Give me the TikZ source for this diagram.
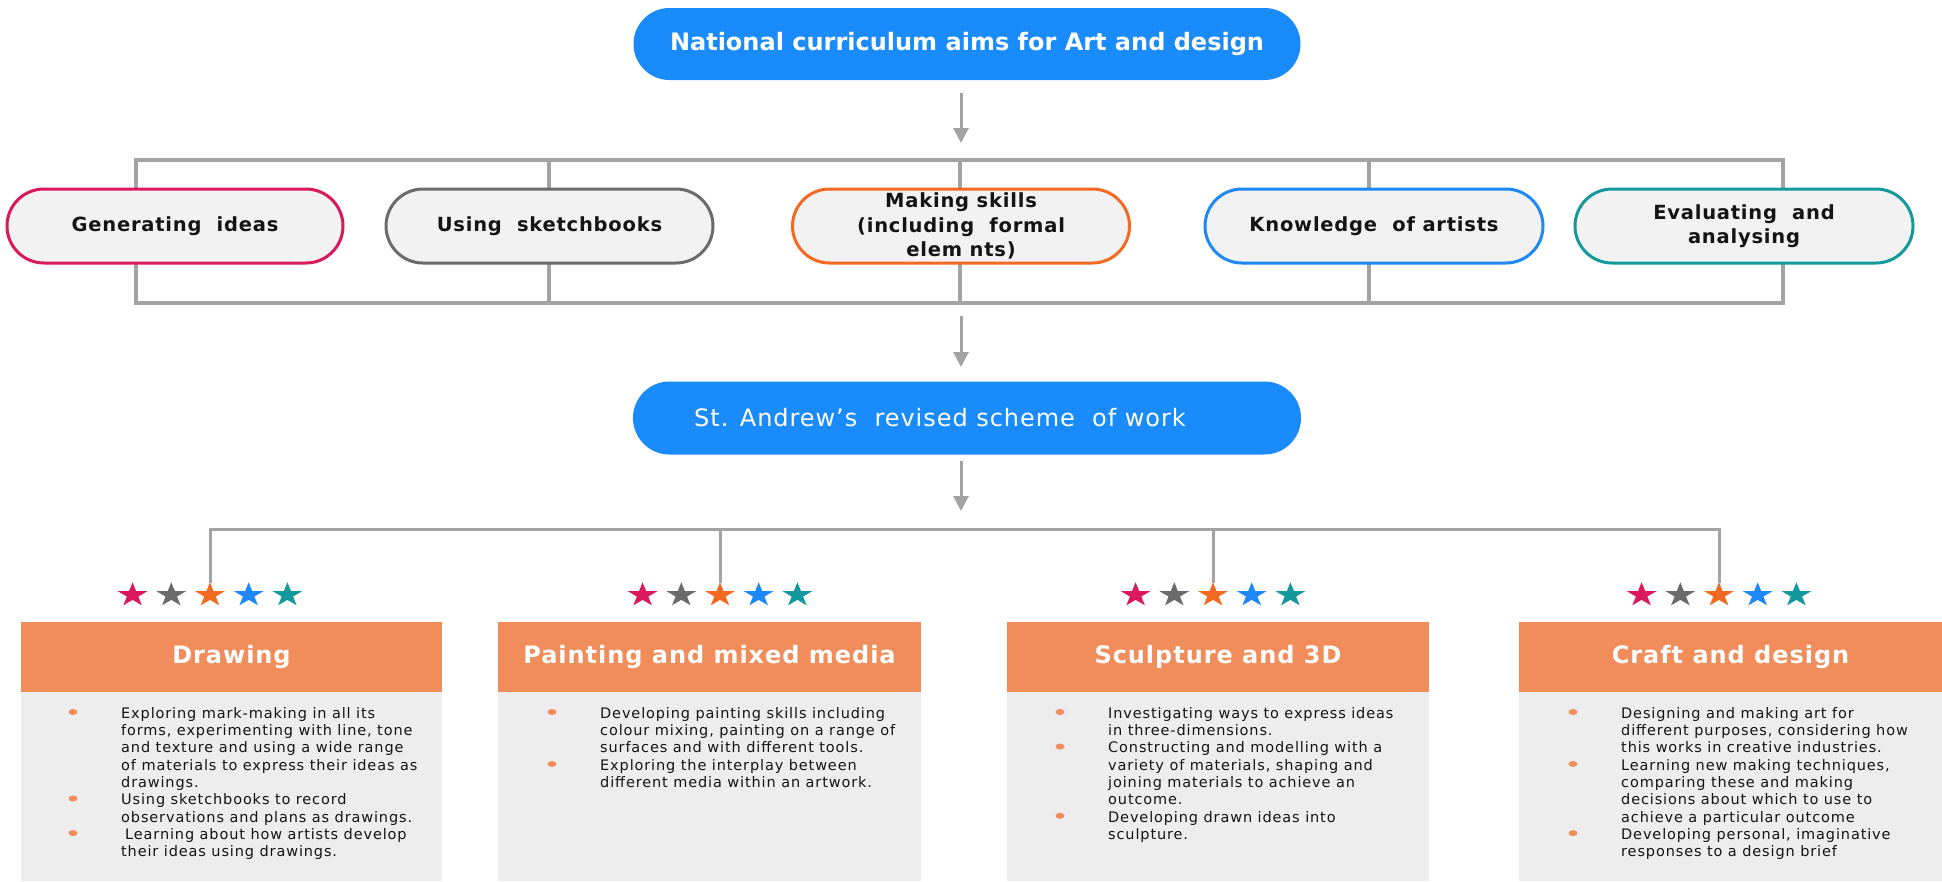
\documentclass[tikz,border=0pt]{standalone}
\usepackage{fontspec}
\setmainfont{DejaVu Sans}
\newfontfamily\pillfont{DejaVu Sans}[LetterSpace=4]
\newfontfamily\bodyfont{DejaVu Sans}[LetterSpace=6]
\usetikzlibrary{shapes.misc,arrows.meta}
\definecolor{ncblue}{HTML}{1A8BFB}
\definecolor{cCrimson}{HTML}{D9195C}
\definecolor{cGray}{HTML}{6B6B6B}
\definecolor{cOrange}{HTML}{F26A22}
\definecolor{cBlue}{HTML}{1E88F5}
\definecolor{cTeal}{HTML}{13999C}
\definecolor{pillfill}{HTML}{F2F2F2}
\definecolor{lineGray}{HTML}{A3A3A3}
\definecolor{hdrOrange}{HTML}{F08D5B}
\definecolor{bodyGray}{HTML}{EDEDED}
\definecolor{txt}{HTML}{141414}
\tikzset{
  bluepill/.style={rounded rectangle, fill=ncblue, draw=none, text=white, inner sep=0pt},
  aimpill/.style={rounded rectangle, fill=pillfill, draw=#1, line width=3pt, minimum height=74pt,
    text=txt, align=center, inner sep=0pt, font=\pillfont\bfseries\fontsize{19.5pt}{24.5pt}\selectfont},
  frameline/.style={draw=lineGray, line width=4pt},
  treeline/.style={draw=lineGray, line width=3pt},
  arr/.style={draw=lineGray, line width=3pt, -{Triangle[width=15pt,length=15pt]}},
  hdr/.style={rectangle, fill=hdrOrange, minimum height=70pt, inner sep=0pt, text=white,
    font=\pillfont\bfseries\fontsize{24pt}{28pt}\selectfont},
  bodytxt/.style={anchor=north west, inner sep=0pt, align=left, text=txt,
    font=\bodyfont\fontsize{14.5pt}{17.3pt}\selectfont},
  pics/fstar/.style={code={\fill[#1, x=1.24pt, y=1pt] (90:12.7) -- (126:4.85) -- (162:12.7) -- (198:4.85)
    -- (234:12.7) -- (270:4.85) -- (306:12.7) -- (342:4.85) -- (18:12.7) -- (54:4.85) -- cycle;}}
}
\newcommand{\bul}[2]{\fill[hdrOrange] (#1,#2) ellipse [x radius=4.5pt, y radius=3pt];}
\begin{document}
\begin{tikzpicture}[x=1pt,y=-1pt]
\useasboundingbox[fill=white] (0,0) rectangle (1942,881);

% top node
\node[bluepill, minimum width=667pt, minimum height=72pt,
  font=\bfseries\fontsize{24pt}{28pt}\selectfont] (nc) at (967,44) {National curriculum aims for Art and design};

% arrow 1
\coordinate (a1s) at (961,93);
\coordinate (a1e) at (961,143);
\draw[arr] (a1s) -- (a1e);

% frame
\coordinate (fTL) at (136,160);
\coordinate (fBR) at (1783,303);
\draw[frameline] (fTL) rectangle (fBR);
\coordinate (v2t) at (549,160); \coordinate (v2b) at (549,303);
\coordinate (v3t) at (960,160); \coordinate (v3b) at (960,303);
\coordinate (v4t) at (1369,160); \coordinate (v4b) at (1369,303);
\draw[frameline] (v2t) -- (v2b);
\draw[frameline] (v3t) -- (v3b);
\draw[frameline] (v4t) -- (v4b);

% aims pills
\node[aimpill=cCrimson, minimum width=336pt] (gen) at (175,226) {Generating~ ideas};
\node[aimpill=cGray, minimum width=327pt] (sk) at (549.5,226) {Using~ sketchbooks};
\node[aimpill=cOrange, minimum width=337pt] (mk) at (961,226) {Making skills\\(including~ formal\\elem nts)};
\node[aimpill=cBlue, minimum width=338pt] (kn) at (1374,226) {Knowledge~ of artists};
\node[aimpill=cTeal, minimum width=338pt] (ev) at (1744,226) {Evaluating~ and\\analysing};

% arrow 2
\coordinate (a2s) at (961,316);
\coordinate (a2e) at (961,367);
\draw[arr] (a2s) -- (a2e);

% second pill
\node[bluepill, minimum width=668pt, minimum height=73pt,
  font=\pillfont\fontsize{24pt}{28pt}\selectfont] (sa) at (967,418) {St. Andrew’s~ revised scheme~ of work\hspace*{54pt}};

% arrow 3
\coordinate (a3s) at (961,461);
\coordinate (a3e) at (961,511);
\draw[arr] (a3s) -- (a3e);

% stars
\foreach \cx in {210,720,1213,1719}{
  \foreach \c [count=\i] in {cCrimson,cGray,cOrange,cBlue,cTeal}{
    \pic at ({\cx+(\i-3)*38.7},595) {fstar=\c};
  }
}

% tree
\coordinate (t1) at (210,583);
\coordinate (t2) at (720,583);
\coordinate (t3) at (1213,583);
\coordinate (t4) at (1719,583);
\coordinate (tm) at (960,529);
\draw[treeline] (t1) |- (tm) -| (t4);
\draw[treeline] (t2) -- (t2 |- tm);
\draw[treeline] (t3) -- (t3 |- tm);

% headers and bodies
\fill[bodyGray] (21,692) rectangle (442,881);
\fill[bodyGray] (498,692) rectangle (921,881);
\fill[bodyGray] (1007,692) rectangle (1429,881);
\fill[bodyGray] (1519,692) rectangle (1942,881);
\node[hdr, minimum width=421pt] (h1) at (231.5,657) {Drawing};
\node[hdr, minimum width=423pt] (h2) at (709.5,657) {Painting and mixed media};
\node[hdr, minimum width=422pt] (h3) at (1218,657) {Sculpture and 3D};
\node[hdr, minimum width=423pt] (h4) at (1730.5,657) {Craft and design};

% body texts
\node[bodytxt] (b1) at (121,707) {Exploring mark-making in all its\\forms, experimenting with line, tone\\and texture and using a wide range\\of materials to express their ideas as\\drawings.\\Using sketchbooks to record\\observations and plans as drawings.\\\hspace*{4pt}Learning about how artists develop\\their ideas using drawings.};
\bul{73}{712} \bul{73}{798.5} \bul{73}{833.1}

\node[bodytxt] (b2) at (600,707) {Developing painting skills including\\colour mixing, painting on a range of\\surfaces and with different tools.\\Exploring the interplay between\\different media within an artwork.};
\bul{552}{712} \bul{552}{763.9}

\node[bodytxt] (b3) at (1108,707) {Investigating ways to express ideas\\in three-dimensions.\\Constructing and modelling with a\\variety of materials, shaping and\\joining materials to achieve an\\outcome.\\Developing drawn ideas into\\sculpture.};
\bul{1060}{712} \bul{1060}{746.6} \bul{1060}{815.8}

\node[bodytxt] (b4) at (1621,707) {Designing and making art for\\different purposes, considering how\\this works in creative industries.\\Learning new making techniques,\\comparing these and making\\decisions about which to use to\\achieve a particular outcome\\Developing personal, imaginative\\responses to a design brief};
\bul{1573}{712} \bul{1573}{763.9} \bul{1573}{833.1}
\end{tikzpicture}
\end{document}
